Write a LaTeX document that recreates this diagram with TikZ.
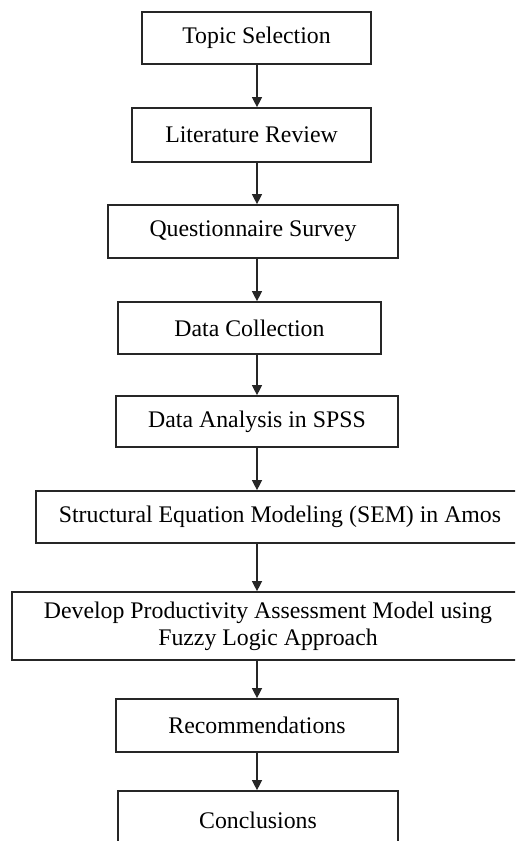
\documentclass[tikz,border=0pt]{standalone}
\usepackage{fontspec}
\setmainfont{Liberation Serif}
\usetikzlibrary{arrows.meta}
\begin{document}
\begin{tikzpicture}[x=1pt,y=-1pt,
  stepbox/.style={draw=black!85, line width=1.7pt, inner sep=0pt, align=center,
    font=\fontsize{23.8}{27}\selectfont},
  flow/.style={line width=1.3pt, draw=black!85, -{Triangle[length=10pt,width=10pt]}}]
\useasboundingbox (0,0) rectangle (515,841);
\clip (0,0) rectangle (515,841);
\fill[white] (0,0) rectangle (515,841);
\coordinate (ax) at (257,0);
\node[stepbox, minimum width=229pt, minimum height=52pt] (topic) at (256.5,38) {Topic Selection};
\node[stepbox, minimum width=239pt, minimum height=54pt] (lit) at (251.5,135) {Literature Review};
\node[stepbox, minimum width=290pt, minimum height=53pt] (quest) at (253,231.5) {Questionnaire Survey};
\node[stepbox, minimum width=263pt, minimum height=52pt] (dc) at (249.5,328) {Data Collection};
\node[stepbox, minimum width=282pt, minimum height=51pt] (da) at (257,421.5) {Data Analysis in SPSS};
\node[stepbox, minimum width=488pt, minimum height=52pt] (sem) at (280,517) {Structural Equation Modeling (SEM) in Amos};
\node[stepbox, minimum width=512pt, minimum height=68pt] (dev) at (268,626) {Develop Productivity Assessment Model using\\Fuzzy Logic Approach};
\node[stepbox, minimum width=282pt, minimum height=53pt] (rec) at (257,725.5) {Recommendations};
\node[stepbox, minimum width=280pt, minimum height=59pt] (conc) at (258,820.5) {Conclusions};
\draw[flow] (topic.south -| ax) -- (lit.north -| ax);
\draw[flow] (lit.south -| ax) -- (quest.north -| ax);
\draw[flow] (quest.south -| ax) -- (dc.north -| ax);
\draw[flow] (dc.south -| ax) -- (da.north -| ax);
\draw[flow] (da.south -| ax) -- (sem.north -| ax);
\draw[flow] (sem.south -| ax) -- (dev.north -| ax);
\draw[flow] (dev.south -| ax) -- (rec.north -| ax);
\draw[flow] (rec.south -| ax) -- (conc.north -| ax);
\end{tikzpicture}
\end{document}
